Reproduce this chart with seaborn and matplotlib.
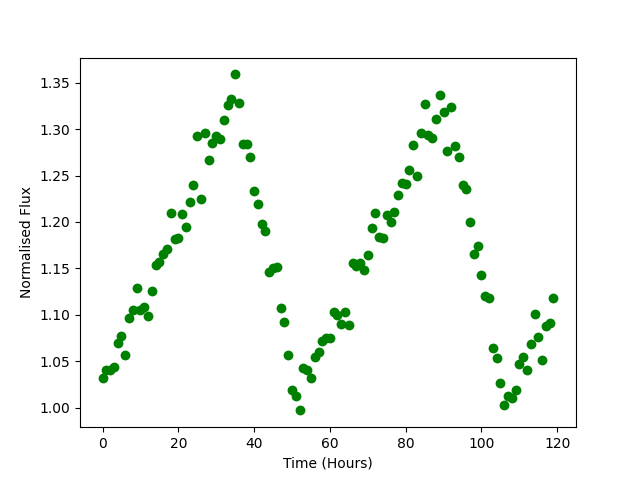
import matplotlib
matplotlib.use("Agg")
import matplotlib.pyplot as plt
import seaborn as sns
import numpy as np
import pandas as pd

# Dati
hours = list(range(120))
flux = [
    1.032, 1.040, 1.040, 1.044, 1.070, 1.077, 1.057, 1.097, 1.105, 1.129,
    1.105, 1.108, 1.099, 1.126, 1.154, 1.157, 1.166, 1.171, 1.210, 1.182,
    1.183, 1.209, 1.195, 1.222, 1.240, 1.293, 1.225, 1.296, 1.267, 1.285,
    1.293, 1.289, 1.310, 1.326, 1.333, 1.359, 1.328, 1.284, 1.284, 1.270,
    1.233, 1.219, 1.198, 1.190, 1.146, 1.150, 1.151, 1.107, 1.092, 1.057,
    1.019, 1.013, 0.997, 1.043, 1.041, 1.032, 1.054, 1.060, 1.072, 1.075,
    1.075, 1.103, 1.100, 1.090, 1.103, 1.089, 1.156, 1.153, 1.156, 1.148,
    1.164, 1.194, 1.210, 1.184, 1.183, 1.208, 1.200, 1.211, 1.229, 1.242,
    1.241, 1.256, 1.283, 1.249, 1.296, 1.327, 1.294, 1.291, 1.311, 1.337,
    1.319, 1.277, 1.324, 1.282, 1.270, 1.240, 1.235, 1.200, 1.165, 1.174,
    1.143, 1.120, 1.118, 1.064, 1.053, 1.027, 1.003, 1.013, 1.010, 1.019,
    1.047, 1.055, 1.041, 1.069, 1.101, 1.076, 1.051, 1.088, 1.091, 1.118,
]

df = pd.DataFrame({"time": hours, "flux": flux})

fig, ax = plt.subplots(figsize=(6.4, 4.8), dpi=100)
sns.scatterplot(data=df, x="time", y="flux", color="green", s=50,
                linewidth=0, ax=ax)
ax.set_xlabel("Time (Hours)")
ax.set_ylabel("Normalised Flux")
fig.savefig("out.png", dpi=100)
